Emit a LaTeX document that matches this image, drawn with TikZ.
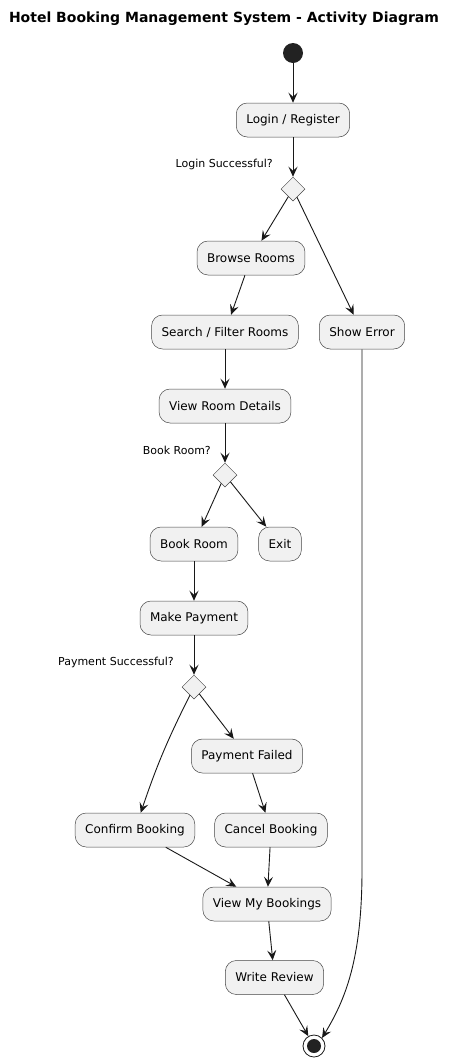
\documentclass[tikz,border=0pt]{standalone}
\usepackage{fontspec}
\setmainfont{DejaVu Sans}
\usetikzlibrary{shapes.geometric,arrows.meta}
\definecolor{boxfill}{HTML}{F1F1F1}
\definecolor{ink}{HTML}{181818}
\definecolor{dotc}{HTML}{222222}
\begin{document}
\begin{tikzpicture}[x=1pt,y=-1pt,
  act/.style={draw=ink!80,line width=0.5pt,fill=boxfill,rounded corners=11pt,
    minimum height=34pt,inner xsep=10pt,font=\fontsize{12}{14}\selectfont,text=black},
  dec/.style={draw=ink!80,line width=0.5pt,fill=boxfill,shape=diamond,aspect=1,
    minimum width=24pt,minimum height=24pt,inner sep=0pt},
  lbl/.style={font=\fontsize{11}{13}\selectfont,anchor=east,inner sep=0pt},
  arr/.style={draw=ink,line width=0.9pt,-{Stealth[length=10pt,width=9pt,inset=4pt]}}]
\useasboundingbox (0,0) rectangle (456,1061);
\node[font=\bfseries\fontsize{14}{16}\selectfont] (title) at (224,19) {Hotel Booking Management System - Activity Diagram};
\node[circle,fill=dotc,minimum size=20pt,inner sep=0pt] (start) at (293,53) {};
\node[act] (login) at (293,120) {Login / Register};
\node[dec] (d1) at (293,189) {};
\node[lbl] (l1) at (273,164) {Login Successful?};
\node[act] (browse) at (251,258) {Browse Rooms};
\node[act] (search) at (225,332) {Search / Filter Rooms};
\node[act] (err) at (362,332) {Show Error};
\node[act] (view) at (225,406) {View Room Details};
\node[dec] (d2) at (225,475) {};
\node[lbl] (l2) at (211,450) {Book Room?};
\node[act] (book) at (194,544) {Book Room};
\node[act] (exit) at (280,544) {Exit};
\node[act] (pay) at (194,618) {Make Payment};
\node[dec] (d3) at (194,687) {};
\node[lbl] (l3) at (174,662) {Payment Successful?};
\node[act] (failed) at (247,756) {Payment Failed};
\node[act] (confirm) at (135,830) {Confirm Booking};
\node[act] (cancel) at (271,830) {Cancel Booking};
\node[act] (mine) at (267,904) {View My Bookings};
\node[act] (review) at (274.5,977.5) {Write Review};
\node[circle,draw=ink,line width=0.8pt,fill=white,minimum size=22pt,inner sep=0pt] (fin) at (314,1046) {};
\fill[dotc] (fin.center) circle (7pt);
\coordinate (bend) at (362,870);
\draw[arr] (start) -- (login);
\draw[arr] (login) -- (d1);
\draw[arr] (d1) -- (browse);
\draw[arr] (d1) -- (err);
\draw[arr] (browse) -- (search);
\draw[arr] (search) -- (view);
\draw[arr] (view) -- (d2);
\draw[arr] (d2) -- (book);
\draw[arr] (d2) -- (exit);
\draw[arr] (book) -- (pay);
\draw[arr] (pay) -- (d3);
\draw[arr] (d3) to[bend right=4] (confirm);
\draw[arr] (d3) -- (failed);
\draw[arr] (failed) -- (cancel);
\draw[arr] (confirm) -- (mine);
\draw[arr] (cancel) -- (mine);
\draw[arr] (mine) -- (review);
\draw[arr] (review) -- (fin);
\draw[arr] (err.south) -- (bend) .. controls (362,960) and (345,1000) .. (fin.north east);
\end{tikzpicture}
\end{document}
